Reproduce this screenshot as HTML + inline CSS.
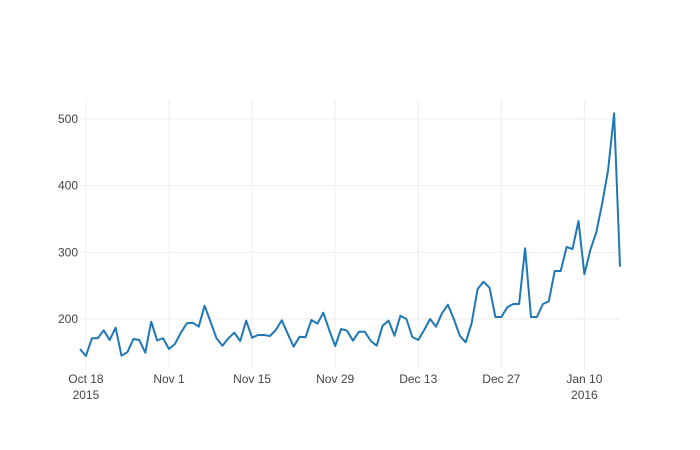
<!DOCTYPE html>
<html><head><meta charset="utf-8"><style>
body{margin:0;background:#fff}
svg{display:block;font-family:"Liberation Sans",sans-serif}
</style></head><body>
<svg id="chart" width="700" height="450"></svg>
<script>
const values=[155,144.5,171,171,183,168.5,187,145,150.5,170,168.5,149.5,196,168,171,155,162.5,179.5,193.5,194.5,188.5,220,196,171,160,171,179.5,167,197.5,172,176,176,174.5,183.5,198,178,158.5,173.5,172.5,198.5,193,209.5,183.5,159.5,185,182.5,167.5,181,181,167,160,190,197.5,175,205,200,173,168.5,183.5,200,188.5,208.5,221.5,200,175,165,193.5,245,256,247,203,203,217.5,222.5,222.5,306,203,203,222.5,226.5,272,272,308,305,347,267,303.5,330,373.5,423.5,508.5,278.5];
const startDay=0; // Oct 17 2015 = day 0
const xTickDays=[1,15,29,43,57,71,85];
const xTickLabels=["Oct 18","Nov 1","Nov 15","Nov 29","Dec 13","Dec 27","Jan 10"];
const xTickSub=["2015","","","","","","2016"];
const yTicks=[200,300,400,500];

const L=80,R=620,T=100,B=370;
const xMin=0,xMax=values.length-1,yMin=123.5,yMax=528.5;
const X=d=>L+(d-xMin)/(xMax-xMin)*(R-L);
const Y=v=>B-(v-yMin)/(yMax-yMin)*(B-T);
const svg=document.getElementById('chart');
const NS='http://www.w3.org/2000/svg';
function mk(tag,attrs,parent){const e=document.createElementNS(NS,tag);for(const k in attrs)e.setAttribute(k,attrs[k]);(parent||svg).appendChild(e);return e;}

yTicks.forEach(v=>{
  const g=mk('line',{x1:L,x2:R,y1:Y(v),y2:Y(v),stroke:'#eee','stroke-width':1});
  
  
  const t=mk('text',{x:L-2,y:Y(v)+4,'text-anchor':'end','font-size':12,fill:'#444'});
  t.textContent=v;
  
  
});
xTickDays.forEach((d,i)=>{
  const g=mk('line',{x1:X(d),x2:X(d),y1:T,y2:B,stroke:'#eee','stroke-width':1});
  
  
  const t=mk('text',{x:X(d),y:383,'text-anchor':'middle','font-size':12,fill:'#444'});
  t.textContent=xTickLabels[i];
  
  
  if(xTickSub[i]){
    const s=mk('text',{x:X(d),y:399,'text-anchor':'middle','font-size':12,fill:'#444'});
    s.textContent=xTickSub[i];
    
    
  }
});
const pts=values.map((v,i)=>X(startDay+i).toFixed(1)+','+Y(v).toFixed(1)).join(' ');
const line=mk('polyline',{points:pts,fill:'none',stroke:'#1f77b4','stroke-width':2,'stroke-linejoin':'round'});


</script>
</body></html>
